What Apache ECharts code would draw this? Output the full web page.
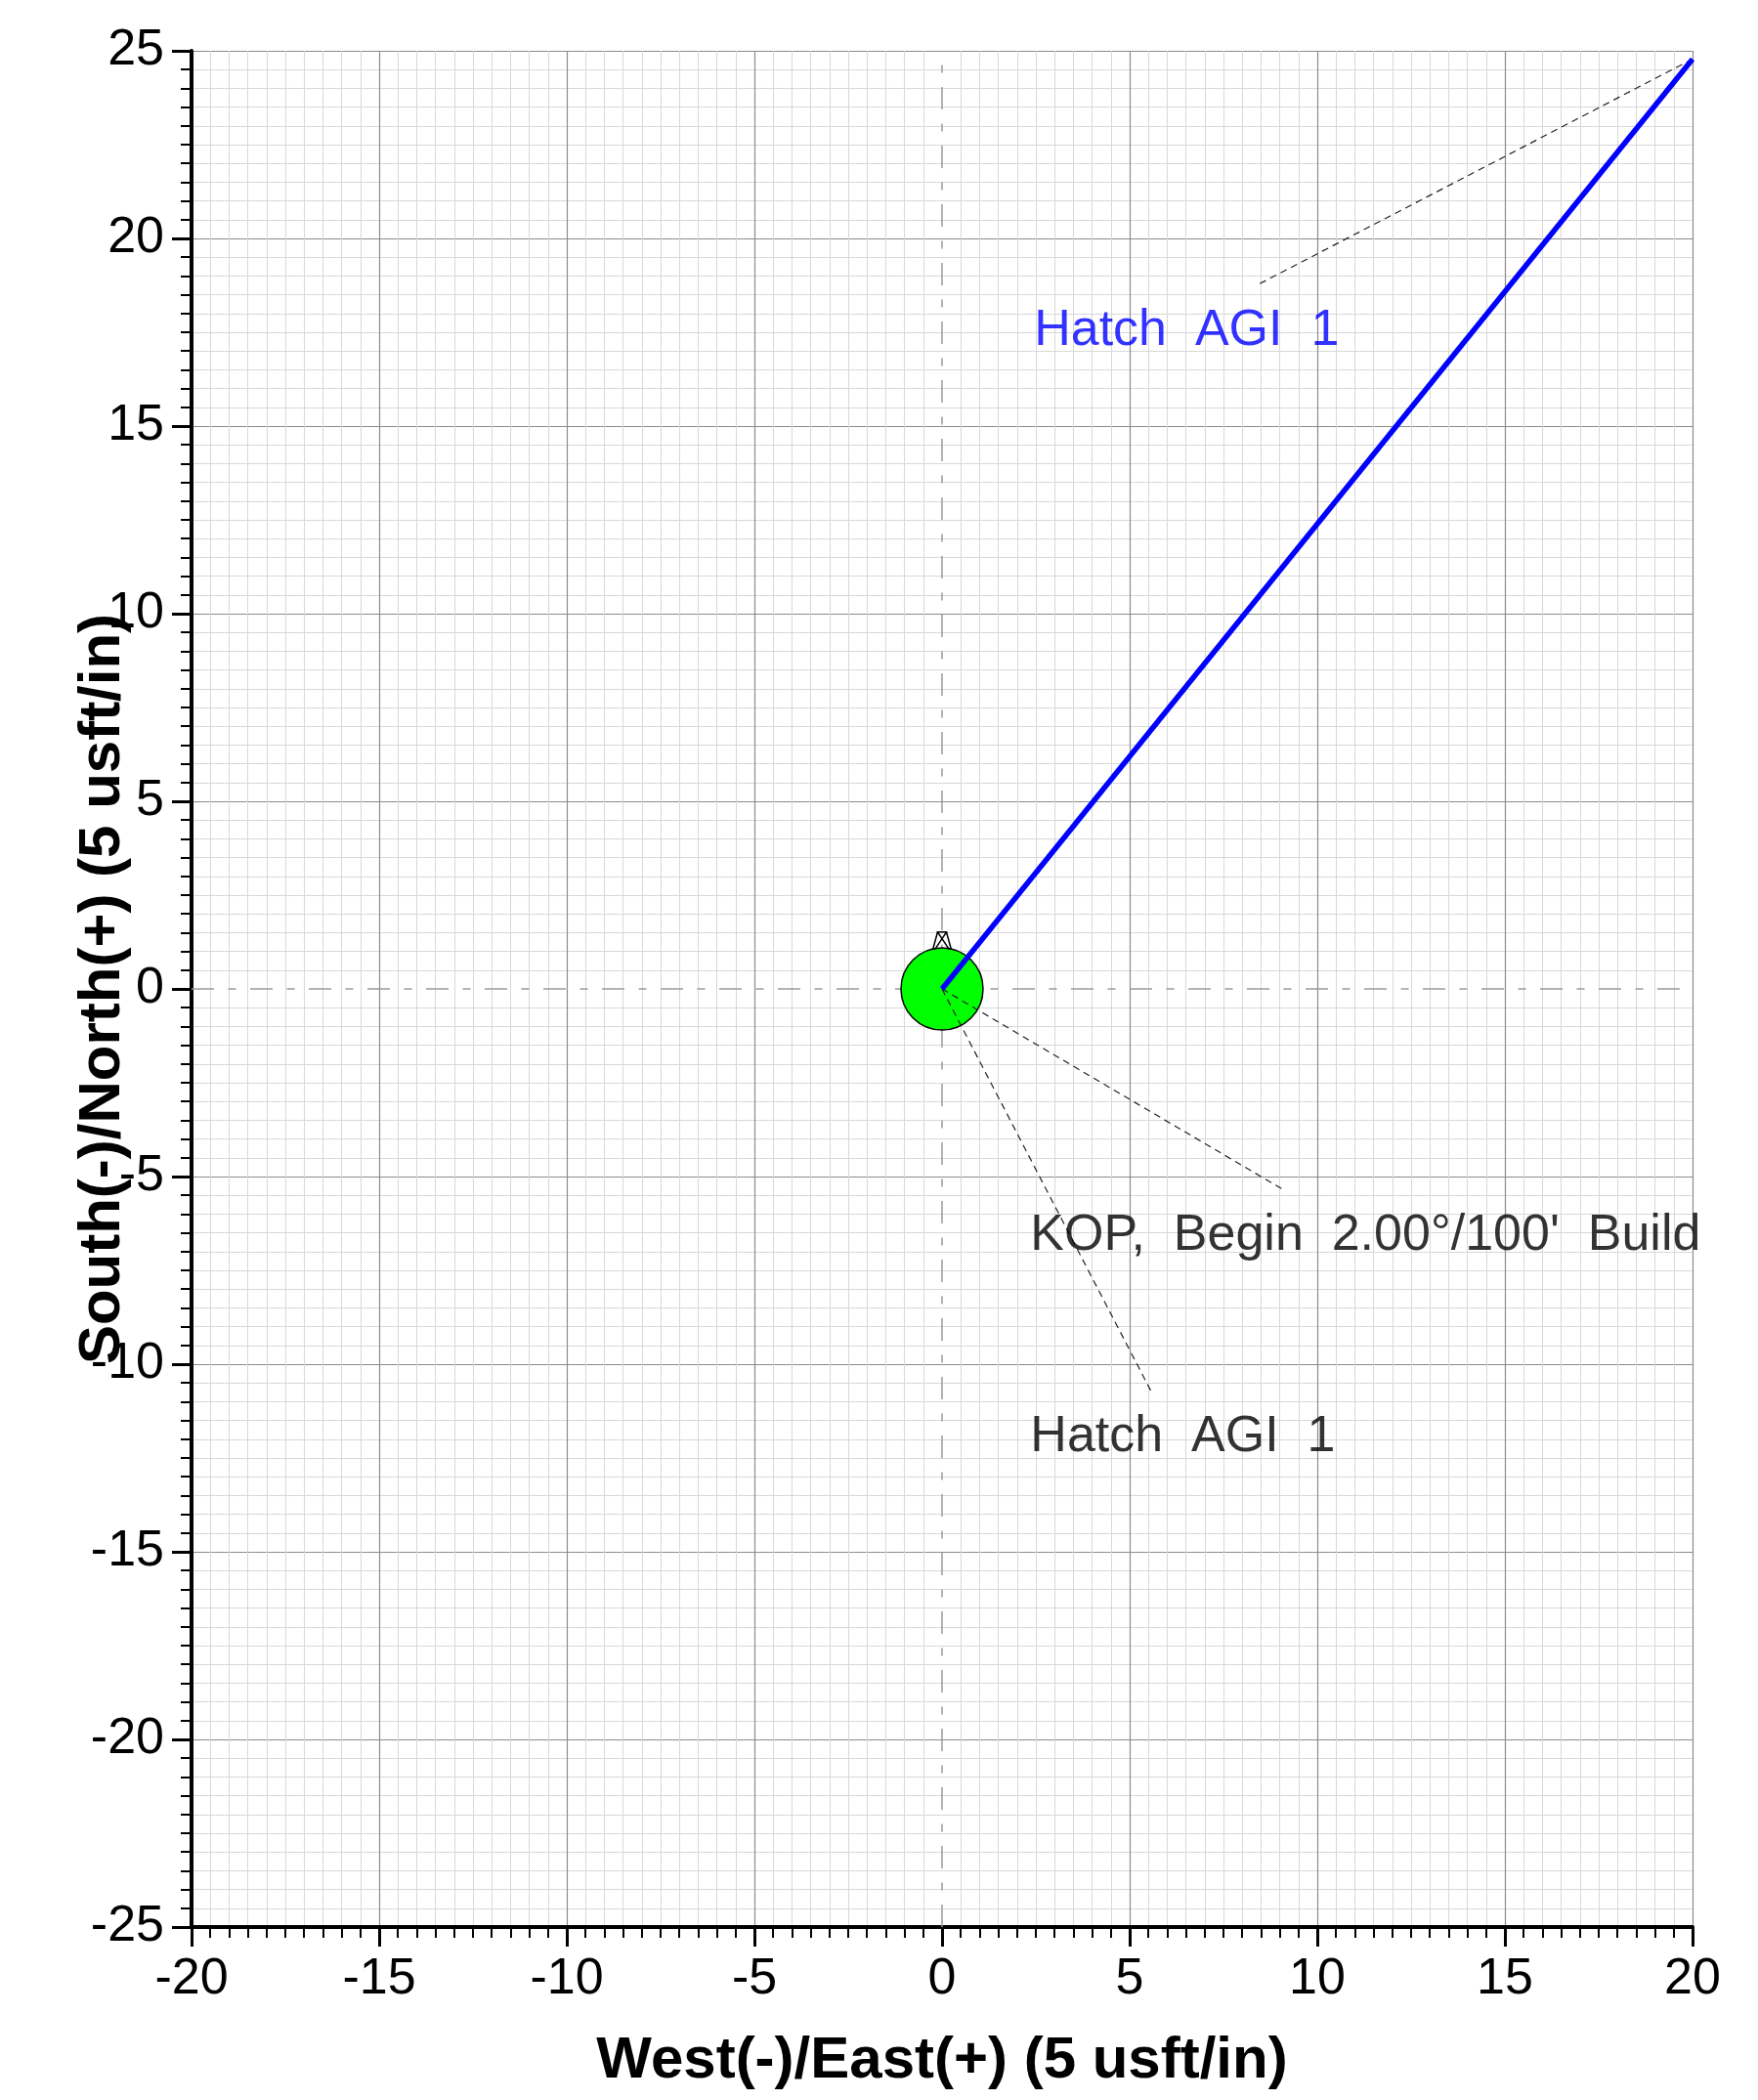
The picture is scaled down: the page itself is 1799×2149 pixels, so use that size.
<!DOCTYPE html>
<html>
<head>
<meta charset="utf-8">
<title>Plan View</title>
<script src="https://cdn.jsdelivr.net/npm/echarts@6/dist/echarts.min.js"></script>
<style>
    html, body { margin: 0; padding: 0; background: #fff; }
    #chart { width: 1799px; height: 2149px; }
</style>
</head>
<body>
<div id="chart"></div>
<script>
// axis ranges (usft)
const xMin = -20
const xMax = 20
const yMin = -25
const yMax = 25
const tickStep = 5

// well path, East(+) / North(+)
const wellPath = [[0, 0], [20, 24.78]]
const surfaceLocation = [[0, 0]]
const rigLocation = [[0, 1.28]]
const crossEastWest = [[-20, 0], [20, 0]]
const crossNorthSouth = [[0, -25], [0, 25]]

// annotations
const labelTexts = ['Hatch  AGI  1', 'KOP,  Begin  2.00°/100\'  Build', 'Hatch  AGI  1']
const labelAnchors = [[2.44, 17.54], [2.34, -6.58], [2.34, -11.94]]
const leaderFrom = [[20, 24.78], [0, 0], [0, 0]]
const leaderTo = [[8.44, 18.78], [9.06, -5.33], [5.57, -10.72]]

const FONT = '"Liberation Sans", Arial, Helvetica, sans-serif'
const labelColors = ['#0000ff', '#000', '#000']

// major grid line colours, the zero line is left to the dash-dot cross
const majorColors = (min, max) => {
    const colors = []
    for (let v = min; v <= max; v += tickStep) {
        colors.push(v === 0 ? 'rgba(0,0,0,0)' : '#8c8c8c')
    }
    return colors
}

const axisConfig = (min, max, name, nameGap) => ({
    type: 'value',
    min: min,
    max: max,
    interval: tickStep,
    name: name,
    nameLocation: 'middle',
    nameGap: nameGap,
    nameMoveOverlap: false,
    nameTextStyle: {
        fontFamily: FONT,
        fontSize: 60,
        fontWeight: 'bold',
        color: '#000'
    },
    axisLine: {
        show: true,
        onZero: false,
        lineStyle: { color: '#000', width: 4 }
    },
    axisTick: {
        show: true,
        length: 20,
        lineStyle: { color: '#000', width: 3 }
    },
    minorTick: {
        show: true,
        splitNumber: 10,
        length: 11,
        lineStyle: { color: '#000', width: 2 }
    },
    axisLabel: {
        fontFamily: FONT,
        fontSize: 52,
        color: '#000',
        margin: 28,
        showMinLabel: true,
        showMaxLabel: true
    },
    splitLine: {
        show: true,
        lineStyle: { color: majorColors(min, max), width: 1.2 }
    },
    minorSplitLine: {
        show: true,
        lineStyle: { color: '#d8d8d8', width: 1 }
    }
})

const leaderSeries = leaderFrom.map((p, i) => ({
    type: 'line',
    data: [p, leaderTo[i]],
    symbol: 'none',
    silent: true,
    z: 4,
    lineStyle: { color: '#222', width: 1.2, type: [7, 5] }
}))

const labelSeries = labelTexts.map((text, i) => ({
    type: 'scatter',
    data: [labelAnchors[i]],
    symbolSize: 1,
    silent: true,
    z: 6,
    itemStyle: { color: 'rgba(0,0,0,0)' },
    label: {
        show: true,
        position: 'right',
        distance: 0,
        formatter: text,
        fontFamily: FONT,
        fontSize: 52,
        color: labelColors[i]
    }
}))

const crossStyle = { color: '#9a9a9a', width: 1.5, type: [23, 14.5, 8, 14.5] }

const option = {
    animation: false,
    grid: {
        left: 196,
        right: 67,
        top: 52,
        bottom: 177,
        outerBoundsMode: 'none'
    },
    xAxis: axisConfig(xMin, xMax, 'West(-)/East(+) (5 usft/in)', 107),
    yAxis: axisConfig(yMin, yMax, 'South(-)/North(+) (5 usft/in)', 61),
    series: [
        {
            type: 'line',
            data: crossEastWest,
            symbol: 'none',
            silent: true,
            z: 1,
            lineStyle: crossStyle
        },
        {
            type: 'line',
            data: crossNorthSouth,
            symbol: 'none',
            silent: true,
            z: 1,
            lineStyle: crossStyle
        },
        {
            type: 'scatter',
            data: surfaceLocation,
            symbolSize: 84,
            silent: true,
            z: 2,
            itemStyle: { color: '#00ff00', borderColor: '#000', borderWidth: 1.5, opacity: 1 }
        },
        {
            type: 'scatter',
            data: rigLocation,
            symbol: 'path://M0,18 L5,0 L14,0 L19,18 M5,0 L17,18 M14,0 L2,18 M4,0 L15,0',
            symbolSize: [19, 18],
            silent: true,
            z: 3,
            itemStyle: { color: 'none', borderColor: '#000', borderWidth: 1.5, opacity: 1 }
        },
        ...leaderSeries,
        {
            type: 'line',
            data: wellPath,
            symbol: 'none',
            silent: true,
            z: 5,
            lineStyle: { color: '#0000ff', width: 5.5 }
        },
        ...labelSeries
    ]
}

const chart = echarts.init(document.getElementById('chart'))
chart.setOption(option)
</script>
</body>
</html>
